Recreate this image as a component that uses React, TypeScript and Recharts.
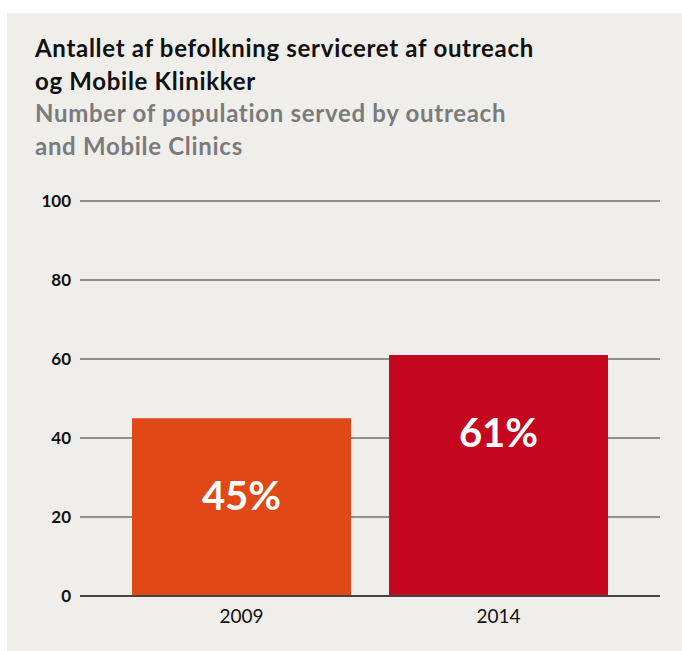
import { BarChart, Bar, XAxis, YAxis, CartesianGrid, Cell, LabelList } from 'recharts'

const years = ['2009', '2014']
const shares = [45, 61]
const yTicks = [0, 20, 40, 60, 80, 100]
const barColors = ['#e04817', '#c4071e']

const data = years.map((year, i) => ({ year, value: shares[i] }))

const PercentLabel = (props: any) => {
  const { x, y, width, value } = props
  return (
    <text
      x={x + width / 2}
      y={y + 92}
      textAnchor="middle"
      fill="#ffffff"
      fontFamily="Lato"
      fontWeight={700}
      fontSize={40}
    >
      {value}%
    </text>
  )
}

export default function App() {
  return (
    <div style={{ position: 'absolute', left: 0, top: 0, width: 682, height: 651, background: '#ffffff' }}>
      <div
        style={{
          position: 'absolute',
          left: 7,
          top: 13,
          width: 675,
          height: 638,
          background: '#f0eeea',
        }}
      />
      <div
        style={{
          position: 'absolute',
          left: 35,
          top: 32,
          fontFamily: 'Lato',
          fontWeight: 700,
          fontSize: 24,
          lineHeight: '32.6px',
          letterSpacing: 0.7,
          whiteSpace: 'nowrap',
        }}
      >
        <div style={{ color: '#111111' }}>Antallet af befolkning serviceret af outreach</div>
        <div style={{ color: '#111111' }}>og Mobile Klinikker</div>
        <div style={{ color: '#7a7b7d' }}>Number of population served by outreach</div>
        <div style={{ color: '#7a7b7d' }}>and Mobile Clinics</div>
      </div>
      <div style={{ position: 'absolute', left: 0, top: 0 }}>
        <BarChart width={682} height={651} data={data} margin={{ top: 201, right: 22, bottom: 25, left: 0 }}>
          <CartesianGrid vertical={false} stroke="#6f6f6f" strokeWidth={1.5} />
          <XAxis
            dataKey="year"
            padding={{ left: 33, right: 33 }}
            height={30}
            axisLine={{ stroke: '#444444', strokeWidth: 2 }}
            tickLine={false}
            tickSize={0}
            tickMargin={14}
            tick={{ fill: '#111111', fontFamily: 'Lato', fontSize: 19 }}
          />
          <YAxis
            width={80}
            domain={[0, 100]}
            ticks={yTicks}
            axisLine={false}
            tickLine={false}
            tickSize={0}
            tickMargin={9}
            tick={{ fill: '#111111', fontFamily: 'Lato', fontWeight: 700, fontSize: 17 }}
          />
          <Bar dataKey="value" barSize={219} isAnimationActive={false}>
            {data.map((d, i) => (
              <Cell key={d.year} fill={barColors[i]} />
            ))}
            <LabelList dataKey="value" content={PercentLabel} />
          </Bar>
        </BarChart>
      </div>
    </div>
  )
}
